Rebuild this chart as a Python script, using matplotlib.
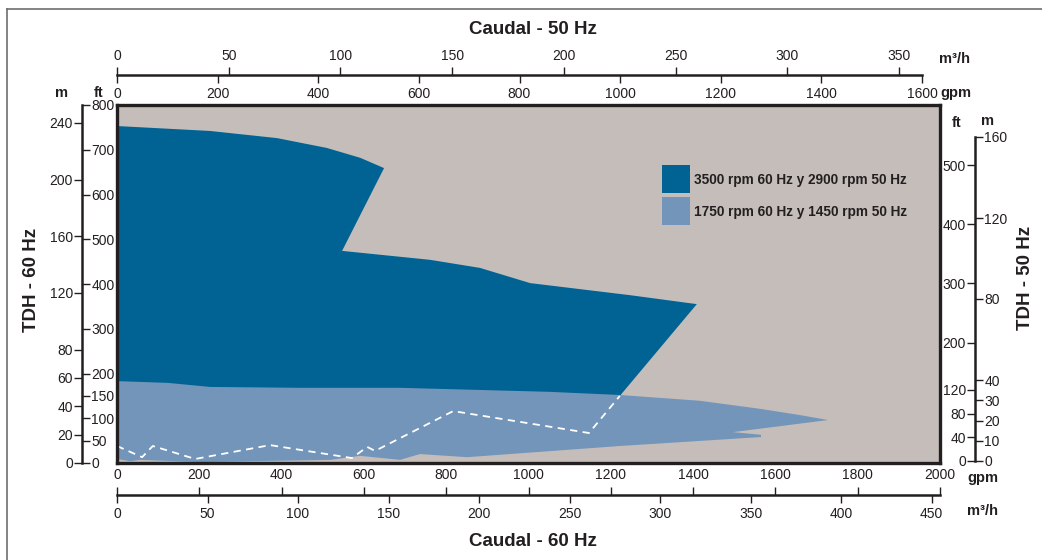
import numpy as np
import matplotlib.pyplot as plt
from matplotlib.lines import Line2D
from matplotlib.patches import Rectangle

# fuente de catálogo (Arial-like)
plt.rcParams['font.family'] = ['Liberation Sans', 'DejaVu Sans']
plt.rcParams['text.color'] = '#231f20'
plt.rcParams['xtick.color'] = '#231f20'
plt.rcParams['ytick.color'] = '#231f20'

# rango 3500 rpm 60 Hz / 2900 rpm 50 Hz (caudal en gpm a 60 Hz, TDH en ft a 60 Hz)
alta_gpm = [0, 226, 389, 510, 591, 649, 547, 761, 882, 1004, 1247, 1409, 1222, 1179, 0]
alta_ft = [753, 742, 726, 704, 682, 659, 474, 454, 436, 402, 375, 355, 150, 96, 96]

# rango 1750 rpm 60 Hz / 1450 rpm 50 Hz
baja_gpm = [0, 124, 226, 445, 688, 1052, 1222, 1417, 1563, 1660, 1728, 1497, 1565, 1565,
            1222, 851, 736, 688, 591, 518, 323, 202, 56, 32, 0]
baja_ft = [183, 179, 170, 168, 168, 159, 152, 139, 121, 107, 96, 69, 63, 58,
           38, 13, 20, 7, 16, 7, 4, 2, 7, 4, 9]

# línea discontinua blanca
limite_gpm = [0, 61, 87, 190, 372, 571, 608, 627, 817, 1147, 1222]
limite_ft = [38, 13, 38, 9, 40, 11, 36, 27, 116, 67, 150]

# escalas de los ejes
gpm60_ticks = list(range(0, 2001, 200))
m3h60_ticks = list(range(0, 451, 50))
gpm50_ticks = list(range(0, 1601, 200))
m3h50_ticks = list(range(0, 351, 50))
ft60_ticks = [0, 50, 100, 150, 200, 300, 400, 500, 600, 700, 800]
m60_ticks = [0, 20, 40, 60, 80, 120, 160, 200, 240]
ft50_ticks = [0, 40, 80, 120, 200, 300, 400, 500]
m50_ticks = [0, 10, 20, 30, 40, 80, 120, 160]

leyenda = ['3500 rpm 60 Hz y 2900 rpm 50 Hz', '1750 rpm 60 Hz y 1450 rpm 50 Hz']

c_fondo = '#c5bdba'
c_alta = '#006394'
c_baja = '#7395b9'
c_negro = '#231f20'

W, H = 1042, 560
fig = plt.figure(figsize=(W / 100, H / 100), dpi=100)


def caja(x0, y0, x1, y1):
    # posición en píxeles -> fracción de figura
    return [x0 / W, 1 - y1 / H, max(x1 - x0, 0.1) / W, max(y1 - y0, 0.1) / H]


# marco exterior gris
fig.add_artist(Line2D([7 / W, 7 / W], [0, 1 - 9 / H], color='#6d6e70', lw=1.2))
fig.add_artist(Line2D([7 / W, 1], [1 - 9 / H, 1 - 9 / H], color='#6d6e70', lw=1.2))

# gráfico principal
ax = fig.add_axes(caja(117, 105, 940, 463))
ax.set_facecolor(c_fondo)
ax.fill(alta_gpm, alta_ft, color=c_alta, lw=0)
ax.fill(baja_gpm, baja_ft, color=c_baja, lw=0)
ax.plot(limite_gpm, limite_ft, color='white', lw=1.3, ls=(0, (4, 3)))
ax.set_xlim(0, 2000)
ax.set_ylim(0, 800)
ax.set_xticks([])
ax.set_yticks([])
for s in ax.spines.values():
    s.set_linewidth(2.4)
    s.set_color(c_negro)

# leyenda
for i, (txt, col) in enumerate(zip(leyenda, [c_alta, c_baja])):
    y0 = 165 + i * 32
    fig.add_artist(Rectangle((662 / W, 1 - (y0 + 28) / H), 28 / W, 28 / H,
                             transform=fig.transFigure, color=col, lw=0))
    fig.text(694 / W, 1 - (y0 + 15) / H, txt, fontsize=9.8, fontweight='bold',
             va='center', ha='left')

tk = dict(direction='out', length=5.5, width=1.0, labelsize=10, pad=2)


def eje_x(y, x0, x1, lim_abajo, ticks_abajo, lim_arriba, ticks_arriba, pad_ab, pad_ar):
    a = fig.add_axes(caja(x0, y, x1, y))
    a.patch.set_visible(False)
    for k in ['top', 'left', 'right']:
        a.spines[k].set_visible(False)
    a.spines['bottom'].set_linewidth(1.8)
    a.spines['bottom'].set_color(c_negro)
    a.set_yticks([])
    b = a.twiny()
    for s in b.spines.values():
        s.set_visible(False)
    a.set_xlim(*lim_abajo)
    a.set_xticks(ticks_abajo)
    a.xaxis.tick_bottom()
    a.tick_params(axis='x', **dict(tk, pad=pad_ab))
    b.set_xlim(*lim_arriba)
    b.set_xticks(ticks_arriba)
    b.xaxis.tick_top()
    b.tick_params(axis='x', **dict(tk, pad=pad_ar))
    return a, b


def eje_y(x, y0, y1, lim_der, ticks_der, lim_izq, ticks_izq):
    a = fig.add_axes(caja(x, y0, x, y1))
    a.patch.set_visible(False)
    for k in ['top', 'bottom', 'right']:
        a.spines[k].set_visible(False)
    a.spines['left'].set_linewidth(1.8)
    a.spines['left'].set_color(c_negro)
    a.set_xticks([])
    b = a.twinx()
    for s in b.spines.values():
        s.set_visible(False)
    a.set_ylim(*lim_der)
    a.set_yticks(ticks_der)
    a.yaxis.tick_right()
    a.tick_params(axis='y', **dict(tk, pad=1))
    b.set_ylim(*lim_izq)
    b.set_yticks(ticks_izq)
    b.yaxis.tick_left()
    b.tick_params(axis='y', **dict(tk, pad=1))
    return a, b


# eje inferior: m3/h abajo, gpm arriba (60 Hz)
eje_x(495, 117, 940, (0, 454.6), m3h60_ticks, (0, 2000), gpm60_ticks, 3, 4)
# eje superior: gpm abajo, m3/h arriba (50 Hz)
eje_x(75, 117, 922, (0, 1600), gpm50_ticks, (0, 360.3), m3h50_ticks, 3, 3)
# eje izquierdo: ft a la derecha, m a la izquierda (60 Hz)
eje_y(82, 105, 463, (0, 800), ft60_ticks, (0, 252.7), m60_ticks)
# eje derecho: m a la derecha, ft a la izquierda (50 Hz)
eje_y(975, 137, 461, (0, 160), m50_ticks, (0, 547.3), ft50_ticks)

# títulos y unidades
tb = dict(fontweight='bold', ha='center', va='center')
tl = dict(fontweight='bold', ha='left', va='center', fontsize=10.5)
fig.text(533 / W, 1 - 30 / H, 'Caudal - 50 Hz', fontsize=13.5, **tb)
fig.text(533 / W, 1 - 541 / H, 'Caudal - 60 Hz', fontsize=13.5, **tb)
fig.text(32 / W, 1 - 280 / H, 'TDH - 60 Hz', fontsize=13.5, rotation=90, **tb)
fig.text(1025 / W, 1 - 278 / H, 'TDH - 50 Hz', fontsize=13.5, rotation=90, **tb)
fig.text(939 / W, 1 - 59 / H, 'm³/h', **tl)
fig.text(940 / W, 1 - 93 / H, 'gpm', **tl)
fig.text(967 / W, 1 - 478 / H, 'gpm', **tl)
fig.text(967 / W, 1 - 511 / H, 'm³/h', **tl)
fig.text(61 / W, 1 - 93 / H, 'm', fontsize=10.5, **tb)
fig.text(99 / W, 1 - 93 / H, 'ft', fontsize=10.5, **tb)
fig.text(957 / W, 1 - 123 / H, 'ft', fontsize=10.5, **tb)
fig.text(988 / W, 1 - 121 / H, 'm', fontsize=10.5, **tb)

fig.savefig('out.png', dpi=100, facecolor='white')
